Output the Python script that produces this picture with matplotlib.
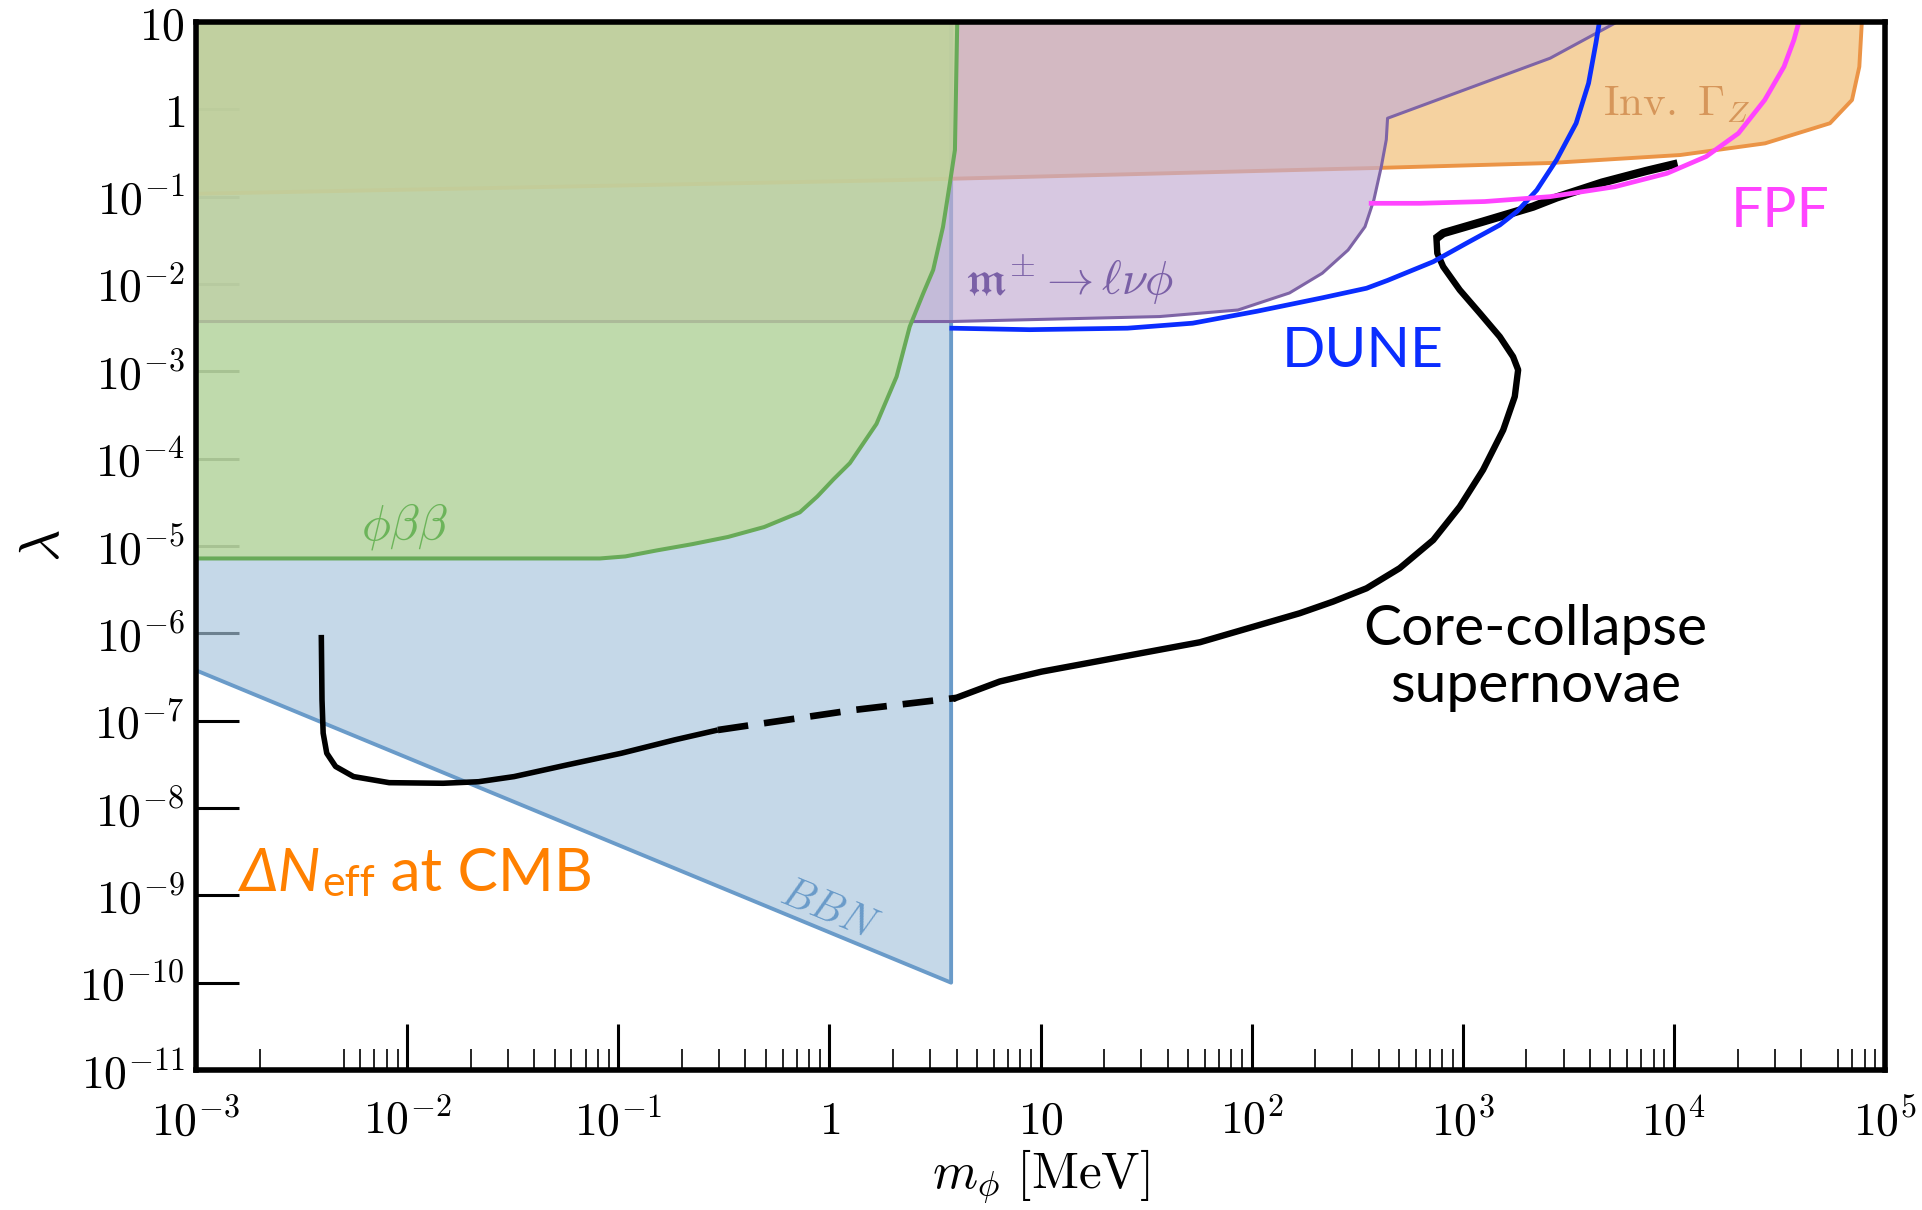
import matplotlib
matplotlib.use("Agg")
import matplotlib.pyplot as plt
from matplotlib.ticker import FixedLocator, FixedFormatter, NullFormatter

plt.rcParams["mathtext.fontset"] = "cm"
plt.rcParams["font.family"] = ["DejaVu Sans"]

# ---------------- excluded regions (m_phi in MeV, coupling lambda) ----------------
# phi beta beta
pbb_m = [1e-3, 0.0818, 0.108, 0.152, 0.224, 0.331, 0.491, 0.724, 0.877, 1.045, 1.25,
         1.67, 2.08, 2.40, 2.78, 3.10, 3.45, 3.72, 3.93, 4.03]
pbb_lam = [7.2e-6, 7.2e-6, 7.6e-6, 8.9e-6, 1.05e-5, 1.27e-5, 1.65e-5, 2.43e-5, 3.7e-5,
           5.8e-5, 8.9e-5, 2.5e-4, 8.7e-4, 3.25e-3, 7.8e-3, 1.45e-2, 4.5e-2, 0.143,
           0.343, 10.0]

# BBN
bbn_m = [1e-3, 3.77, 3.77]
bbn_lam = [3.77e-7, 1.0e-10, 10.0]

# meson decays m -> l nu phi
mes_m = [1e-3, 3.80, 36.6, 86.1, 151, 216, 286, 344, 379, 411, 434, 440, 2590, 5370]
mes_lam = [3.72e-3, 3.72e-3, 4.24e-3, 5.04e-3, 7.9e-3, 1.33e-2, 2.45e-2, 4.53e-2,
           9.2e-2, 0.221, 0.450, 0.791, 3.85, 10.0]

# invisible Z width
invz_m = [1e-3, 2.15, 411, 2600, 10700, 27000, 54800, 69700, 75500, 77600]
invz_lam = [0.108, 0.155, 0.214, 0.243, 0.300, 0.408, 0.693, 1.28, 3.08, 10.0]

# ---------------- projected sensitivities ----------------
dune_m = [3.80, 8.87, 25.8, 52.5, 106, 216, 350, 440, 724, 1040, 1497, 1810, 2240,
          2780, 3440, 3940, 4270, 4410]
dune_lam = [3.12e-3, 3.0e-3, 3.12e-3, 3.56e-3, 4.88e-3, 6.95e-3, 8.95e-3, 1.1e-2,
            1.80e-2, 2.93e-2, 4.74e-2, 6.8e-2, 0.119, 0.264, 0.693, 1.99, 5.77, 9.25]

fpf_m = [368, 627, 1270, 2580, 5250, 9270, 14200, 20200, 26900, 33200, 37000, 38900]
fpf_lam = [8.4e-2, 8.4e-2, 8.8e-2, 0.100, 0.130, 0.185, 0.288, 0.532, 1.28, 3.08,
           6.24, 9.68]

# ---------------- core-collapse supernova bound ----------------
sn_low_m = [3.92e-3, 3.95e-3, 4.0e-3, 4.16e-3, 4.58e-3, 5.57e-3, 8.22e-3, 1.48e-2,
            2.18e-2, 3.21e-2, 5.77e-2, 0.1035, 0.185, 0.296]
sn_low_lam = [9.6e-7, 1.73e-7, 7.2e-8, 4.24e-8, 2.99e-8, 2.29e-8, 1.95e-8, 1.92e-8,
              2.0e-8, 2.29e-8, 3.13e-8, 4.24e-8, 6.03e-8, 7.82e-8]
sn_dash_m = [0.296, 1.32, 3.97]
sn_dash_lam = [7.82e-8, 1.33e-7, 1.82e-7]
sn_high_m = [3.97, 6.41, 10.1, 56.9, 169, 243, 350, 502, 724, 967, 1247, 1553, 1762,
             1828, 1730, 1497, 1205, 967, 807, 757, 750]
sn_high_lam = [1.82e-7, 2.81e-7, 3.64e-7, 7.91e-7, 1.70e-6, 2.31e-6, 3.28e-6, 5.57e-6,
               1.17e-5, 2.82e-5, 7.45e-5, 2.13e-4, 5.14e-4, 1.04e-3, 1.47e-3, 2.49e-3,
               4.62e-3, 8.55e-3, 1.58e-2, 2.25e-2, 3.34e-2]
sn_top_m = [750, 807, 1247, 2150, 2780, 4560, 7380, 10400]
sn_top_lam = [3.34e-2, 3.82e-2, 5.19e-2, 7.69e-2, 9.8e-2, 0.145, 0.197, 0.240]

# ---------------- axis ticks ----------------
x_major = [1e-3, 1e-2, 1e-1, 1, 10, 1e2, 1e3, 1e4, 1e5]
x_labels = [r"$10^{-3}$", r"$10^{-2}$", r"$10^{-1}$", r"$1$", r"$10$",
            r"$10^{2}$", r"$10^{3}$", r"$10^{4}$", r"$10^{5}$"]
y_major = [1e-11, 1e-10, 1e-9, 1e-8, 1e-7, 1e-6, 1e-5, 1e-4, 1e-3, 1e-2, 1e-1, 1, 10]
y_labels = [r"$10^{-11}$", r"$10^{-10}$", r"$10^{-9}$", r"$10^{-8}$", r"$10^{-7}$",
            r"$10^{-6}$", r"$10^{-5}$", r"$10^{-4}$", r"$10^{-3}$", r"$10^{-2}$",
            r"$10^{-1}$", r"$1$", r"$10$"]
x_minor_skip = [3e-3, 4e-3, 5e4]

# colours
c_bbn, a_bbn = (167/255, 197/255, 220/255), 0.66
c_inv, a_inv = (235/255, 157/255, 44/255), 0.45
c_mes, a_mes = (196/255, 174/255, 211/255), 0.68
c_pbb, a_pbb = (190/255, 220/255, 149/255), 0.72
orange_txt = "#ff8000"

fig = plt.figure(figsize=(19.22, 12.10), dpi=100)
ax = fig.add_axes([0.1020, 0.1157, 0.8788, 0.8661])
ax.set_xscale("log")
ax.set_yscale("log")
ax.set_xlim(1e-3, 1e5)
ax.set_ylim(1e-11, 10)
ax.set_axisbelow(True)

# BBN
ax.fill(bbn_m + [1e-3], bbn_lam + [10.0], color=c_bbn, alpha=a_bbn, lw=0, zorder=1.0)
ax.plot(bbn_m, bbn_lam, color="#6a9bc9", lw=2.8, zorder=1.05)

# invisible Z width
ax.fill(invz_m + [1e-3], invz_lam + [10.0], color=c_inv, alpha=a_inv, lw=0, zorder=1.1)
ax.plot(invz_m, invz_lam, color="#eb9446", lw=2.8, zorder=1.15)

# meson decays
ax.fill(mes_m + [1e-3], mes_lam + [10.0], color=c_mes, alpha=a_mes, lw=0, zorder=1.2)
ax.plot(mes_m, mes_lam, color="#7e64a6", lw=2.2, zorder=1.25)

# phi beta beta
ax.fill(pbb_m + [1e-3], pbb_lam + [10.0], color=c_pbb, alpha=a_pbb, lw=0, zorder=1.3)
ax.plot(pbb_m, pbb_lam, color="#68aa58", lw=2.9, zorder=1.35)

# supernova bound
ax.plot(sn_low_m, sn_low_lam, color="black", lw=4.0, solid_capstyle="butt",
        solid_joinstyle="round", zorder=3)
ax.plot(sn_dash_m, sn_dash_lam, color="black", lw=4.8, dashes=(4.6, 2.4), zorder=3)
ax.plot(sn_high_m, sn_high_lam, color="black", lw=4.6, solid_joinstyle="round", zorder=3)
ax.plot(sn_top_m, sn_top_lam, color="black", lw=6.0, solid_capstyle="butt",
        solid_joinstyle="round", zorder=3)

# projected sensitivities
ax.plot(dune_m, dune_lam, color="#0a2dff", lw=3.4, solid_joinstyle="round", zorder=4)
ax.plot(fpf_m, fpf_lam, color="#ff44ff", lw=3.4, solid_joinstyle="round", zorder=4)

# region labels
ax.text(9.7e-3, 1.66e-5, r"$\phi\beta\beta$", color="#6cb45a", fontsize=35,
        ha="center", va="center", zorder=2)
ax.text(13.6, 1.13e-2, r"$\mathfrak{m}^{\pm}\to\ell\nu\phi$", color="#6a4e9c",
        fontsize=34, ha="center", va="center", alpha=0.85, zorder=2)
ax.text(1.03e4, 1.15, r"$\mathrm{Inv.}\ \Gamma_Z$", color="#d6965a", fontsize=31,
        ha="center", va="center", zorder=2)
ax.text(1.0, 6.9e-10, r"$BBN$", color="#6a9bc9", fontsize=30, ha="center",
        va="center", rotation=-22.4, rotation_mode="anchor", zorder=2)

ann_family = ["Lato", "Open Sans", "DejaVu Sans"]
ann = dict(family=ann_family, fontsize=41)

# Delta N_eff at CMB, built from three pieces so the subscript sits below the line
t1 = ax.text(1.6e-3, 1.12e-9, "\u0394N", color=orange_txt, fontsize=43.5,
             fontstyle="italic", family=ann_family, ha="left", va="baseline", zorder=5)
t2 = ax.annotate("eff", xy=(1, 0), xycoords=t1, xytext=(1.5, -1.5),
                 textcoords="offset points", color=orange_txt, fontsize=31,
                 family=ann_family, ha="left", va="bottom", zorder=5)
ax.annotate(" at CMB", xy=(1, 0), xycoords=(t2, t1), xytext=(0, 0),
            textcoords="offset points", color=orange_txt, fontsize=43.5,
            family=ann_family, ha="left", va="bottom", zorder=5)

ax.text(337, 1.68e-3, "DUNE", color="#0a2dff", ha="center", va="center", zorder=5, **ann)
ax.text(3.17e4, 6.68e-2, "FPF", color="#ff44ff", ha="center", va="center", zorder=5, **ann)
ax.text(2210, 5.2e-7, "Core-collapse\nsupernovae", color="black", ha="center",
        va="center", linespacing=1.15, zorder=5, **ann)

# ticks and frame
ax.xaxis.set_major_locator(FixedLocator(x_major))
ax.xaxis.set_major_formatter(FixedFormatter(x_labels))
x_minor = [k * d for d in x_major[:-1] for k in range(2, 10)]
x_minor = [v for v in x_minor if all(abs(v / s - 1) > 1e-6 for s in x_minor_skip)]
ax.xaxis.set_minor_locator(FixedLocator(x_minor))
ax.xaxis.set_minor_formatter(NullFormatter())
ax.yaxis.set_major_locator(FixedLocator(y_major))
ax.yaxis.set_major_formatter(FixedFormatter(y_labels))
ax.yaxis.set_minor_locator(FixedLocator([]))

ax.tick_params(axis="x", which="major", direction="in", length=33, width=2.2,
               labelsize=33, pad=21, top=False)
ax.tick_params(axis="x", which="minor", direction="in", length=15, width=1.2, top=False)
ax.tick_params(axis="y", which="major", direction="in", length=31, width=2.2,
               labelsize=33, pad=8, right=False)
for s in ax.spines.values():
    s.set_linewidth(4.0)
    s.set_zorder(6)

ax.set_xlabel(r"$m_\phi\ [\mathrm{MeV}]$", fontsize=37, labelpad=2)
ax.set_ylabel(r"$\lambda$", fontsize=40, labelpad=6)

fig.savefig("out.png", dpi=100)
